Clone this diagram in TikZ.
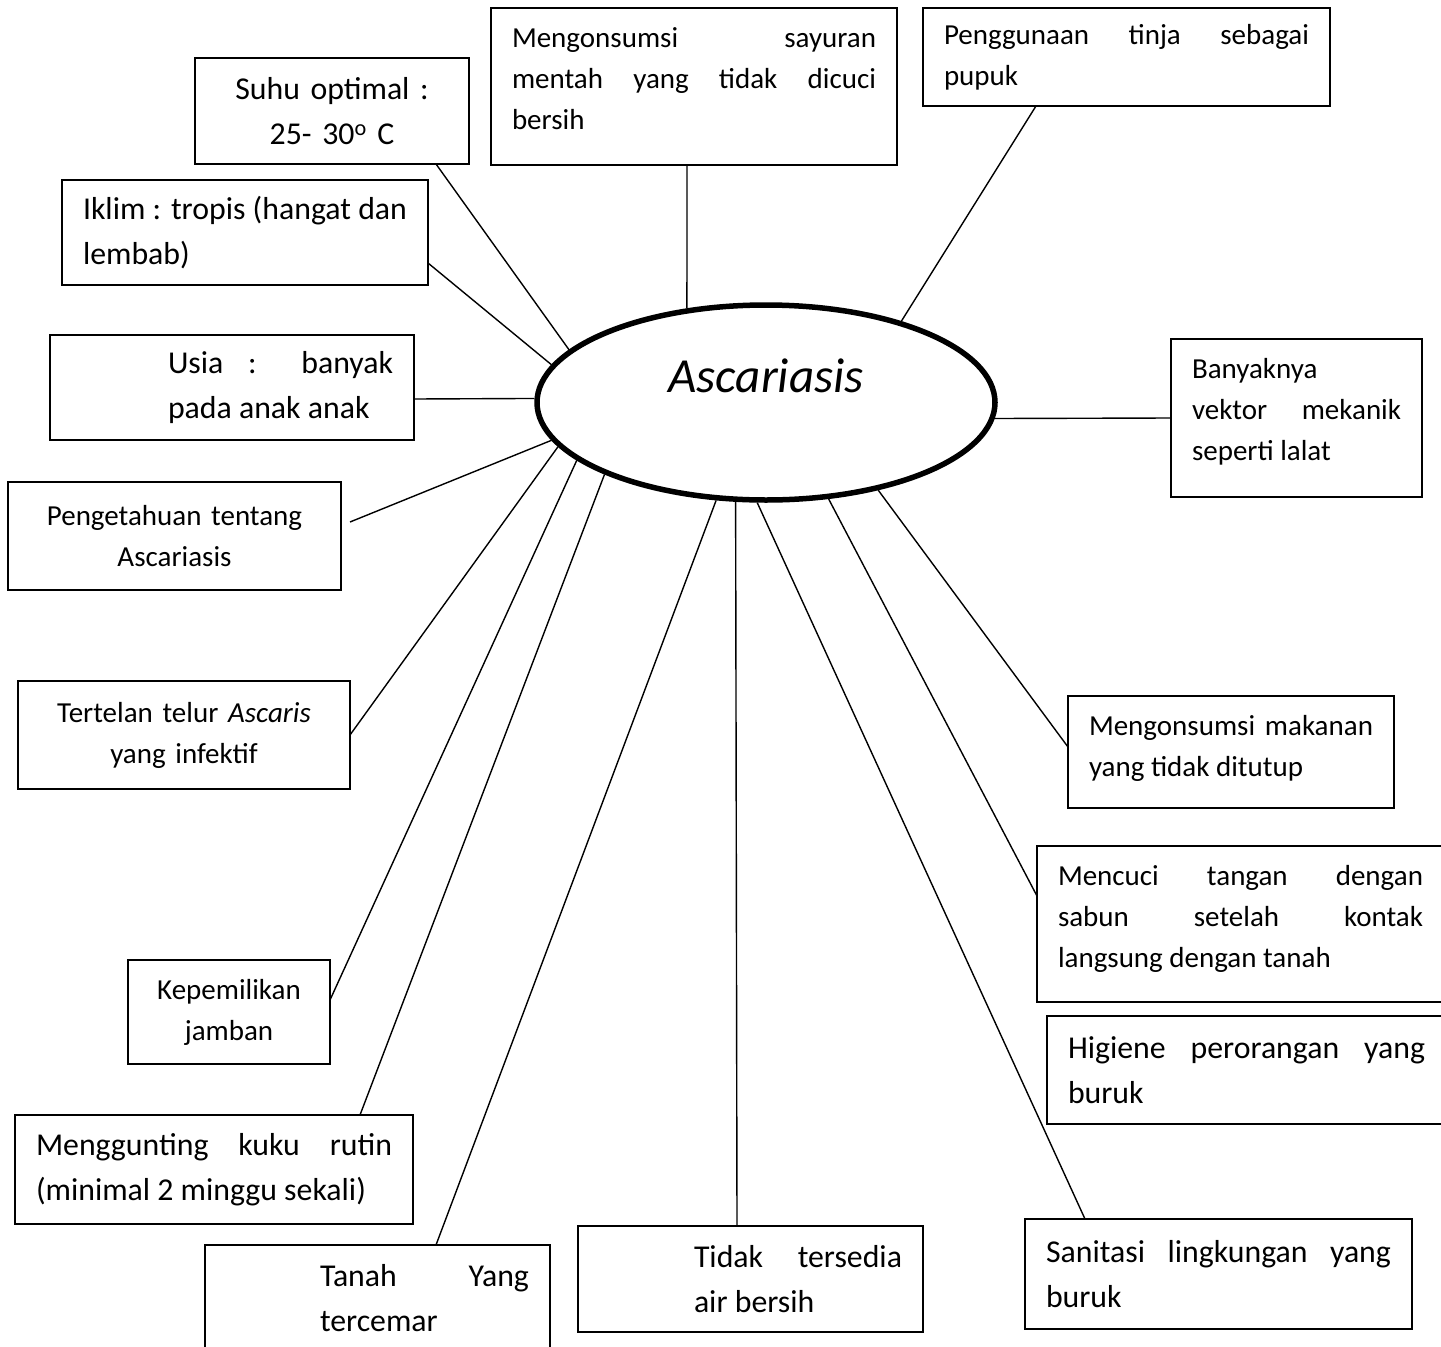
\documentclass[tikz,border=0pt]{standalone}
\usepackage{fontspec}
\setmainfont{Carlito}
\usetikzlibrary{shapes.geometric}
\tolerance=10000
\hbadness=10000
\hyphenpenalty=10000

\begin{document}
\begin{tikzpicture}[x=1pt,y=-1pt,
      box/.style={rectangle,draw,line width=1.6pt,anchor=north west,outer sep=0pt,inner xsep=21pt,inner ysep=0pt},
      smalltext/.style={font=\fontsize{29}{41}\selectfont},
      bigtext/.style={font=\fontsize{31.8}{45}\selectfont},
      disease/.style={ellipse,draw,line width=5.5pt,minimum width=458pt,minimum height=195pt,inner sep=0pt,font=\fontsize{49}{49}\selectfont\itshape,text height=30pt,text depth=51pt},
      link/.style={line width=1.4pt}
    ]
    \useasboundingbox (0,0) rectangle (1441,1347);

    \node[disease] (asc) at (766,402.5) {Ascariasis};

    \node[box,bigtext,align=center,minimum width=274pt,minimum height=106pt,text width=232pt] (suhu) at (195,58) {Suhu optimal :\\25- 30\textsuperscript{o} C};
    \node[box,smalltext,align=justify,minimum width=406pt,minimum height=157pt,text width=364pt] (sayur) at (491,8) {Mengonsumsi sayuran\linebreak mentah yang tidak dicuci\linebreak bersih\rule[-15pt]{0pt}{15pt}};
    \node[box,smalltext,align=justify,minimum width=407pt,minimum height=98pt,text width=365pt] (tinja) at (923,8) {Penggunaan tinja sebagai\linebreak pupuk};
    \node[box,bigtext,align=justify,minimum width=366pt,minimum height=105pt,text width=324pt] (iklim) at (62,180) {Iklim : tropis (hangat dan\linebreak lembab)};
    \node[box,bigtext,align=justify,minimum width=364pt,minimum height=105pt,text width=322pt] (usia) at (50,335) {\leavevmode\leftskip=97pt Usia : banyak\linebreak pada anak anak\par};
    \node[box,smalltext,align=justify,minimum width=251pt,minimum height=158pt,text width=209pt] (vektor) at (1171,339) {Banyaknya\newline vektor mekanik\linebreak seperti lalat\rule[-18pt]{0pt}{18pt}};
    \node[box,smalltext,align=center,minimum width=333pt,minimum height=108pt,text width=291pt] (tahu) at (8,482) {Pengetahuan tentang\\Ascariasis};
    \node[box,smalltext,align=center,minimum width=332pt,minimum height=108pt,text width=290pt] (telan) at (18,681) {Tertelan telur \textit{Ascaris}\\yang infektif};
    \node[box,smalltext,align=justify,minimum width=326pt,minimum height=112pt,text width=284pt] (makanan) at (1068,696) {Mengonsumsi makanan\linebreak yang tidak ditutup\rule[-12pt]{0pt}{12pt}};
    \node[box,smalltext,align=justify,minimum width=407pt,minimum height=156pt,text width=365pt] (mencuci) at (1037,846) {Mencuci tangan dengan\linebreak sabun setelah kontak\linebreak langsung dengan tanah\rule[-15pt]{0pt}{15pt}};
    \node[box,smalltext,align=center,minimum width=202pt,minimum height=104pt,text width=160pt] (jamban) at (128,960) {Kepemilikan\\jamban};
    \node[box,bigtext,align=justify,minimum width=399pt,minimum height=108pt,text width=357pt] (higiene) at (1047,1016) {Higiene perorangan yang\linebreak buruk};
    \node[box,bigtext,align=justify,minimum width=398pt,minimum height=109pt,text width=356pt] (kuku) at (15,1115) {Menggunting kuku rutin\linebreak (minimal 2 minggu sekali)};
    \node[box,bigtext,align=justify,minimum width=387pt,minimum height=110pt,text width=345pt] (sanitasi) at (1025,1219) {Sanitasi lingkungan yang\linebreak buruk};
    \node[box,bigtext,align=justify,minimum width=345pt,minimum height=106pt,text width=303pt] (tidak) at (578,1226) {\leavevmode\leftskip=95pt Tidak tersedia\linebreak air bersih\par};
    \node[box,bigtext,align=justify,minimum width=345pt,minimum height=107pt,text width=303pt] (tanah) at (205,1245) {\leavevmode\leftskip=94pt Tanah Yang\linebreak tercemar\par};

    \draw[link] ([xshift=104pt]suhu.south) -- (asc.165.8);
    \draw[link] ([xshift=-7pt]sayur.south) -- (asc.130.8);
    \draw[link] ([xshift=-90.5pt]tinja.south) -- (asc.31.4);
    \draw[link] ([yshift=-30.5pt]iklim.east) -- (asc.170.5);
    \draw[link] ([yshift=-11.5pt]usia.east) -- (asc.179.1);
    \draw[link] (asc.356.1) -- (vektor.west);
    \draw[link] ([xshift=9pt,yshift=14pt]tahu.east) -- (asc.190.7);
    \draw[link] (telan.east) -- (asc.192.1);
    \draw[link] ([yshift=12pt]jamban.east) -- (asc.197.5);
    \draw[link] ([xshift=146pt]kuku.north) -- (asc.204.8);
    \draw[link] ([xshift=58.5pt]tanah.north) -- (asc.243.1);
    \draw[link] ([xshift=-13.5pt]tidak.north) -- (asc.253.3);
    \draw[link] ([xshift=-133.5pt]sanitasi.north) -- (asc.265.3);
    \draw[link] ([yshift=28pt]mencuci.west) -- (asc.303.6);
    \draw[link] ([yshift=5pt]makanan.west) -- (asc.322.1);
  \end{tikzpicture}
\end{document}
